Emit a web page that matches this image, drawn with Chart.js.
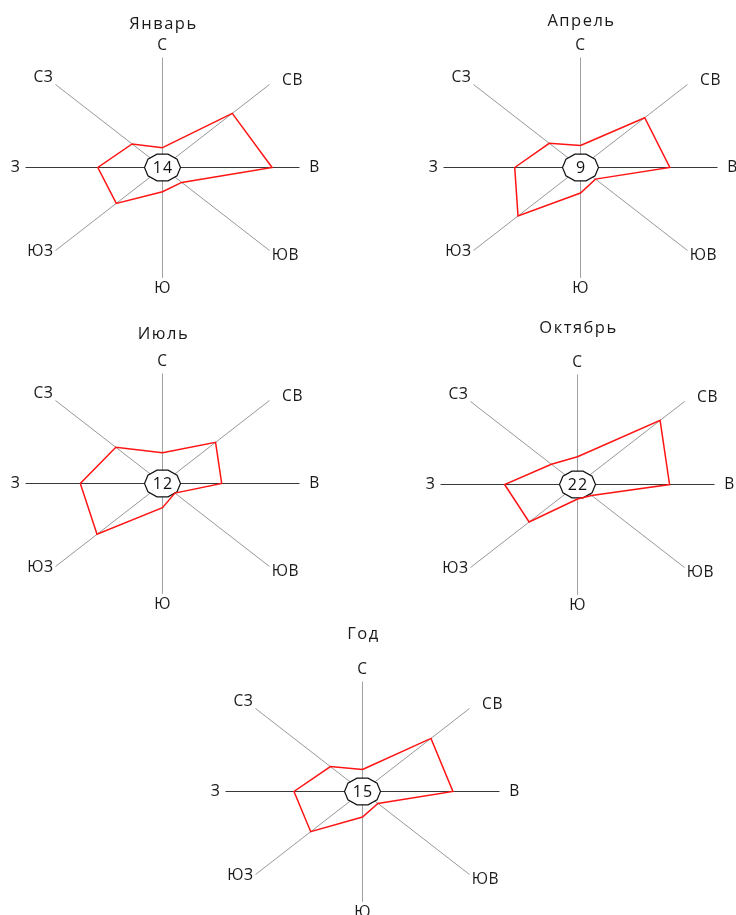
<!DOCTYPE html>
<html>
<head>
<meta charset="utf-8">
<script src="https://cdn.jsdelivr.net/npm/chart.js@4"></script>
<style>
    html, body { margin: 0; padding: 0; background: #fff; overflow: hidden; }
    body { width: 736px; height: 915px; position: relative; }
    canvas { position: absolute; }
</style>
</head>
<body>
<script>
// розы ветров, значения в % (ось = 25 %)
const DIRECTIONS = ['С', 'СВ', 'В', 'ЮВ', 'Ю', 'ЮЗ', 'З', 'СЗ'];
const TITLES = ['Январь', 'Апрель', 'Июль', 'Октябрь', 'Год'];
const CALM = [14, 9, 12, 22, 15];
const JANUARY = [4.5, 16.3, 20.0, 4.5, 5.5, 10.8, 11.8, 7.1];
const APRIL = [5.0, 15.0, 16.3, 3.5, 5.8, 14.6, 12.0, 7.3];
const JULY = [7.0, 12.4, 10.8, 2.9, 5.5, 15.3, 15.0, 10.9];
const OCTOBER = [6.3, 19.3, 16.8, 3.3, 3.3, 11.3, 13.3, 6.1];
const YEAR = [5.0, 16.0, 16.5, 3.6, 5.8, 12.1, 12.5, 7.5];
const AXIS_MAX = 25;

const SERIES = [JANUARY, APRIL, JULY, OCTOBER, YEAR];

// геометрия (в пикселях от центра розы)
const AXIS_END = [[0, 110], [107, 83], [137, 0], [107, -83], [0, -110], [-107, -83], [-137, 0], [-107, 83]];
const LABEL_AT = [[0, 122], [130, 87], [152, 0], [123, -88], [0, -121], [-122, -84], [-147, 0], [-119, 90]];
const CENTERS = [[162, 167], [580, 167], [162, 483], [577, 484], [362, 791]];
const TITLE_RISE = [143, 146, 149, 156, 157];

const W = 330, H = 310, OX = 165.5, OY = 170.5;
const FONT = '"Open Sans", "DejaVu Sans", sans-serif';

function axisStyle(i) {
    if (i === 2 || i === 6) return { color: '#3a3a3a', width: 1.2 };
    if (i === 0 || i === 4) return { color: '#a0a0a0', width: 1 };
    return { color: '#8c8c8c', width: 0.9 };
}

function puntoRosa(i, valor) {
    const k = valor / AXIS_MAX;
    return { x: AXIS_END[i][0] * k, y: AXIS_END[i][1] * k };
}

const rosePlugin = {
    id: 'rose',
    beforeDatasetDraw(chart, args) {
        if (args.index !== 0) return;
        const { ctx, scales: { x, y } } = chart;
        const cx = x.getPixelForValue(0), cy = y.getPixelForValue(0);
        ctx.save();
        ctx.beginPath();
        for (let k = 0; k < 10; k++) {
            const a = k * Math.PI / 5;
            const px = cx + 18 * Math.cos(a), py = cy - 14 * Math.sin(a);
            k === 0 ? ctx.moveTo(px, py) : ctx.lineTo(px, py);
        }
        ctx.closePath();
        ctx.fillStyle = '#fff';
        ctx.fill();
        ctx.strokeStyle = '#111';
        ctx.lineWidth = 1.2;
        ctx.stroke();
        ctx.fillStyle = '#111';
        ctx.font = '400 16px ' + FONT;
        ctx.textAlign = 'center';
        ctx.textBaseline = 'middle';
        ctx.letterSpacing = '1px';
        ctx.fillText(String(chart.options.plugins.rose.calm), cx + 0.5, cy + 1);
        ctx.restore();
    },
    afterDraw(chart) {
        const { ctx, scales: { x, y } } = chart;
        const opts = chart.options.plugins.rose;
        ctx.save();
        ctx.fillStyle = '#1a1a1a';
        ctx.textAlign = 'center';
        ctx.textBaseline = 'middle';
        ctx.font = '400 15.5px ' + FONT;
        ctx.letterSpacing = '0.5px';
        DIRECTIONS.forEach((d, i) => {
            ctx.fillText(d, x.getPixelForValue(LABEL_AT[i][0]), y.getPixelForValue(LABEL_AT[i][1]));
        });
        ctx.font = '400 16.5px ' + FONT;
        ctx.letterSpacing = '1.5px';
        ctx.fillText(opts.title, x.getPixelForValue(0) + 1, y.getPixelForValue(opts.rise));
        ctx.restore();
    }
};

SERIES.forEach((valores, n) => {
    const canvas = document.createElement('canvas');
    canvas.width = W;
    canvas.height = H;
    canvas.style.left = (CENTERS[n][0] - OX) + 'px';
    canvas.style.top = (CENTERS[n][1] - OY) + 'px';
    document.body.appendChild(canvas);

    const poligono = valores.map((v, i) => puntoRosa(i, v));
    poligono.push(poligono[0]);

    const ejes = DIRECTIONS.map((d, i) => {
        const s = axisStyle(i);
        return {
            label: d,
            data: [{ x: 0, y: 0 }, puntoRosa(i, AXIS_MAX)],
            showLine: true,
            borderColor: s.color,
            borderWidth: s.width,
            pointRadius: 0,
            fill: false
        };
    });

    new Chart(canvas.getContext('2d'), {
        type: 'scatter',
        data: {
            datasets: [
                {
                    label: TITLES[n],
                    data: poligono,
                    showLine: true,
                    borderColor: '#ff1414',
                    borderWidth: 1.5,
                    pointRadius: 0,
                    tension: 0,
                    fill: false
                },
                ...ejes
            ]
        },
        options: {
            responsive: false,
            animation: false,
            layout: { padding: 0 },
            scales: {
                x: { type: 'linear', display: false, min: -OX, max: W - OX },
                y: { type: 'linear', display: false, min: -(H - OY), max: OY }
            },
            plugins: {
                legend: { display: false },
                tooltip: { enabled: false },
                rose: { title: TITLES[n], calm: CALM[n], rise: TITLE_RISE[n] }
            }
        },
        plugins: [rosePlugin]
    });
});
</script>
</body>
</html>
